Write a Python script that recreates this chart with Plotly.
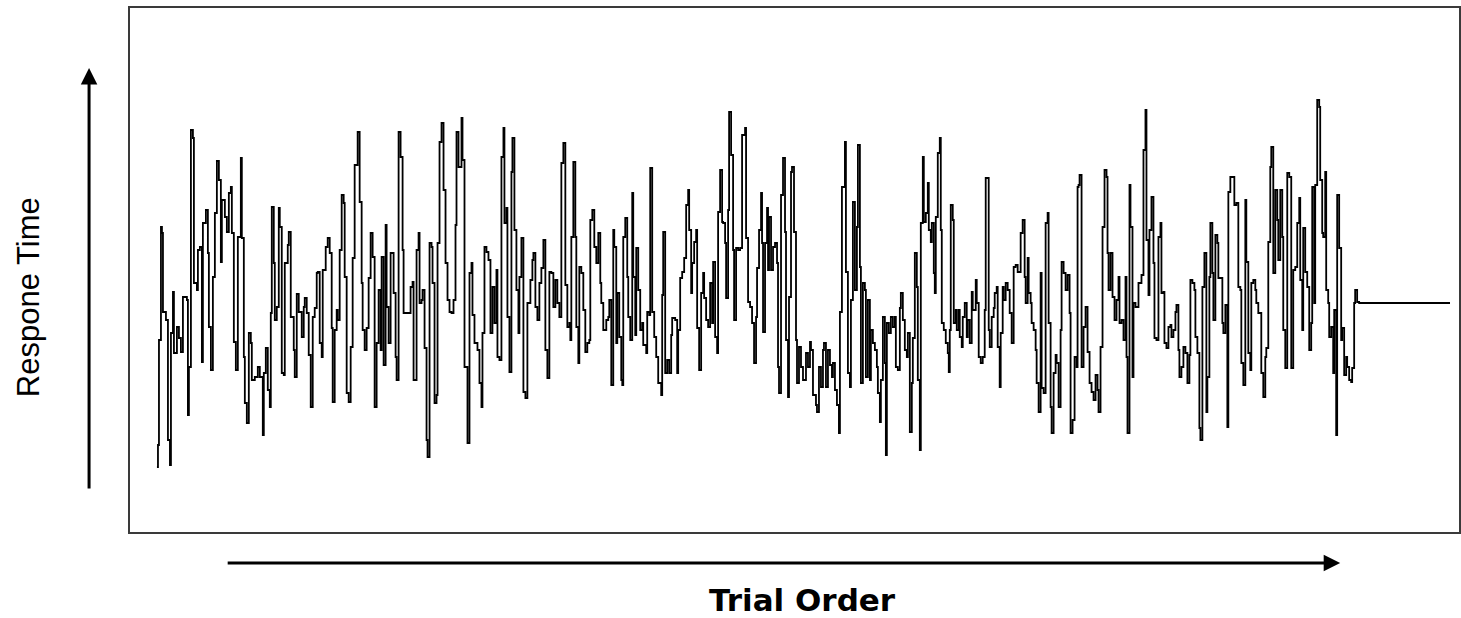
import plotly.graph_objects as go

# Trial index (position along the trial sequence) and response time (arbitrary units)
trial = [
    2, 3, 4, 6, 7, 8, 11, 13, 15, 16, 18, 19, 22, 24, 26, 28, 32, 33, 34, 36, 38, 39, 42, 43, 45, 47, 48, 51, 53, 54,
    56, 58, 60, 62, 64, 66, 67, 70, 72, 74, 76, 77, 79, 81, 83, 86, 87, 89, 90, 92, 94, 96, 97, 100, 103, 105, 108, 109,
    111, 113, 115, 116, 117, 119, 120, 122, 124, 125, 127, 129, 130, 133, 134, 136, 139, 140, 142, 144, 147, 149,
    150, 152, 154, 156, 158, 160, 162, 163, 165, 167, 168, 171, 173, 175, 177, 178, 180, 182, 183, 185, 187, 189, 190,
    192, 194, 196, 198, 200, 203, 205, 207, 208, 210, 212, 214, 216, 218, 220, 222, 224, 226, 227, 229, 231, 232, 234,
    236, 238, 239, 241, 242, 244, 246, 248, 249, 252, 254, 256, 258, 259, 262, 264, 265, 267, 268, 270, 272, 273, 275,
    277, 278, 280, 282, 283, 285, 287, 289, 291, 293, 295, 297, 299, 301, 302, 304,
    307, 308, 310, 313, 315, 317, 318, 320, 323, 325, 327, 328, 330, 332, 334, 336, 338, 340, 342, 343, 345, 347, 349,
    350, 352, 353, 355, 357, 358, 360, 362, 364, 365, 367, 369, 371, 373, 375, 376, 378, 379, 381, 383, 385, 387, 389,
    391, 393, 395, 397, 399, 401, 403, 405, 407, 409, 411, 413, 415, 416, 417, 419, 421, 422, 424, 425, 427, 429, 431,
    433, 435, 436, 438, 440, 442, 444, 446, 447, 449, 452, 454, 455, 457, 459,
    460, 462, 463, 465, 467, 468, 469, 471, 473, 474, 476, 478, 479, 481, 482, 484, 486, 488, 489, 492, 493, 495, 496,
    498, 500, 502, 504, 507, 508, 509, 511, 513, 515, 517, 518, 521, 523, 524, 526, 528, 530, 532, 534, 535, 537, 538,
    540, 542, 543, 545, 547, 549, 550, 552, 554, 556, 558, 559, 561, 563, 564, 566, 568, 569, 571, 572, 574, 575, 577,
    579, 580, 582, 584, 586, 588, 591, 592, 594, 596, 598, 600, 602, 603, 605, 607, 608, 609, 611, 613, 614,
    615, 617, 619, 621, 623, 624, 625, 627, 629, 631, 632, 634, 635, 637, 638, 640, 642, 643, 645, 647, 649, 651, 652,
    654, 656, 657, 659, 662, 663, 665, 667, 669, 670, 672, 674, 676, 678, 679, 681, 683, 685, 686, 688, 691, 692, 694,
    696, 697, 699, 701, 703, 704, 706, 707, 709, 711, 712, 714, 716, 717, 719, 721, 723, 724, 726, 727, 729, 731, 732,
    733, 735, 737, 739, 741, 742, 744, 746, 747, 749, 751, 753, 754, 756, 758, 759, 761, 763, 764, 766, 767, 769,
    770, 772, 774, 775, 777, 778, 780, 781, 782, 784, 786, 787, 788, 790, 792, 794, 795, 796, 797, 799, 800, 802, 803,
    805, 806, 808, 809, 811, 813, 814, 816, 818, 819, 822, 823, 825, 827, 829, 831, 832, 834, 835, 836, 838, 840, 841,
    843, 844, 846, 847, 849, 850, 852, 854, 856, 858, 860, 862, 864, 867, 869, 871, 872, 874, 875, 877, 878, 880, 882,
    883, 885, 887, 888, 890, 892, 894, 895, 897, 898, 900, 902, 903, 905, 907, 908, 910, 912, 914, 916, 917, 919, 921,
    923, 924,
    925, 926, 928, 930, 932, 934, 936, 938, 940, 942, 944, 945, 947, 949, 951, 953, 954, 955, 957, 959, 961, 963, 965,
    966, 968, 970, 972, 973, 974, 976, 977, 979, 980, 982, 983, 985, 987, 988, 990, 992, 993, 995, 996, 998, 1000, 1001,
    1003, 1005, 1007, 1008, 1010, 1011, 1013, 1015, 1017, 1018, 1020, 1022, 1023, 1025, 1026, 1028, 1030, 1032, 1034,
    1036, 1037, 1039, 1041, 1042, 1044, 1046, 1047, 1049, 1051, 1053, 1054, 1056, 1057, 1059, 1060, 1062, 1064, 1065,
    1067, 1069, 1070, 1072, 1074, 1075, 1077,
    1081, 1083, 1085, 1087, 1088, 1090, 1092, 1093, 1095, 1097, 1098, 1100, 1102, 1103, 1105, 1107, 1108, 1110, 1112,
    1113, 1115, 1117, 1118, 1120, 1122, 1124, 1125, 1127, 1129, 1130, 1132, 1134, 1136, 1138, 1140, 1142, 1144, 1146,
    1147, 1149, 1150, 1152, 1154, 1156, 1158, 1159, 1161, 1162, 1164, 1166, 1167, 1169, 1170, 1172, 1173, 1175, 1176,
    1178, 1180, 1181, 1183, 1184, 1186, 1188, 1189, 1191, 1193, 1194, 1196, 1198, 1199, 1201, 1202, 1204, 1206, 1297,
]

response_time = [
    65, 87, 192, 305, 299, 220, 212, 92, 67, 199, 240, 179, 205, 194, 180, 235, 232, 117, 165, 402, 394, 249, 242, 282,
    285, 170, 309, 322, 279, 205,
    162, 255, 319, 371, 352, 270, 332, 315, 300, 339, 345, 299, 190, 162, 295, 374, 294, 175, 129, 109, 199, 189, 152,
    155, 165, 155, 97, 159,
    184, 142, 125, 219, 325, 269, 212, 225, 324, 305, 159, 157, 269, 287, 300, 215, 182, 155, 238, 220, 195, 225,
    234, 219, 177, 125, 215, 224, 259, 260, 189, 175, 262, 285, 294, 279, 204, 130, 202, 222, 212, 282, 337, 329, 255,
    139, 130, 185, 274, 367, 400, 330, 249, 202, 182, 204, 254, 299, 275, 125, 189, 242, 182, 275, 167, 307, 225, 189,
    279, 279, 239, 175, 152, 400, 375, 282, 219, 219, 219, 245, 250, 152, 282, 299, 229, 232, 242, 184, 92, 75, 289,
    285, 249, 129, 137, 289, 390, 409, 342, 269, 232, 220, 219, 232, 307, 400, 365,
    414, 372, 165, 89, 259, 269, 217, 189, 182, 149, 125, 199, 285, 280, 272, 199, 245, 209, 262, 175, 172, 375, 404,
    309, 324, 215, 160, 360, 394, 302, 242, 199, 255, 294, 140, 134, 229, 229, 252, 272, 279, 225, 212, 249, 264, 292,
    182, 154, 260, 259, 225, 252, 229, 215, 369, 389, 247, 205, 209, 192, 295, 370, 295, 205, 169, 265, 259, 222, 180,
    189, 192, 312, 322, 285, 269, 299, 249, 229, 202, 212, 215, 232, 147, 302,
    285, 189, 239, 195, 152, 147, 295, 314, 255, 215, 192, 339, 255, 197, 284, 242, 202, 209, 187, 179, 220, 217, 364,
    220, 195, 175, 149, 137, 237, 300, 159, 172, 159, 197, 214, 212, 159, 202, 254, 260, 274, 327, 342, 302, 239, 269,
    290, 302, 204, 162, 239, 259, 234, 212, 205, 249, 209, 270, 195, 179, 320, 362, 310, 309, 289, 234, 322, 420, 377,
    282, 212, 284, 282, 284, 397, 404, 294, 230, 225, 209, 169, 215, 264, 302, 339, 289, 200, 289, 324, 262,
    315, 262, 285, 289, 269, 165, 139, 337, 374, 300, 192, 135, 235, 360, 365, 300, 192, 149, 185, 165, 152, 152, 179,
    165, 190, 182, 137, 127, 120, 165, 145, 182, 189, 145, 182, 167, 155, 169, 142, 127, 99, 220, 345, 390, 260, 159,
    145, 232, 330, 242, 305, 387, 265, 149, 249, 242, 155, 232, 152, 202, 189, 182, 165, 139, 110, 152, 215, 169, 77,
    209, 199, 215, 205, 215, 165, 162, 224, 239, 212, 182, 175, 199, 100, 149, 194, 279, 245, 152, 82, 309, 375,
    310, 319, 349, 302, 290, 309, 259, 239, 315, 379, 394, 302, 209, 202, 189, 179, 160, 202, 327, 312, 209, 222, 202,
    222, 195, 185, 215, 229, 195, 212, 189, 240, 222, 252, 229, 175, 169, 175, 222, 354, 354, 202, 185, 215, 224, 239,
    245, 185, 145, 199, 245, 232, 249, 242, 219, 189, 265, 267, 260, 299, 312, 255, 229, 274, 239, 229, 209, 202, 182,
    149, 120, 259, 144, 139, 309, 319, 209, 125, 99, 159, 177, 169, 125, 202, 270, 259, 242, 257, 219, 99, 112, 175,
    165, 345,
    347, 357, 165, 205, 225, 180, 149, 140, 132, 157, 142, 120, 185, 305, 362, 355, 279, 242, 279, 235, 212, 232, 255,
    209, 212, 192, 255, 175, 99, 347, 305, 155, 229, 225, 225, 249, 249, 257, 382, 422, 292, 237, 302, 335, 269, 194,
    192, 295, 309, 239, 240, 189, 184, 205, 207, 195, 202, 220, 227, 182, 155, 165, 185, 179, 149,
    177, 252, 249, 242, 195, 179, 104, 92, 245, 279, 120, 155, 255, 309, 259, 212, 297, 289, 254,
    254, 209, 199, 227, 105, 340, 355,
    327, 329, 245, 242, 169, 147, 332, 270, 179, 162, 249, 252, 242, 229, 219, 219, 159, 135, 175,
    184, 290, 365, 385, 259, 342, 312, 272, 342, 295, 202, 164, 359, 355, 164, 262, 265, 309, 334,
    252, 202, 304, 260, 245, 182, 209, 345, 229, 347, 432, 425, 352, 299, 295, 360, 242, 229, 195,
    205, 159, 222, 97, 337, 284, 192, 204, 157, 175, 165, 152, 150, 164, 229, 242, 230, 229, 229,
]

x_label = "Trial Order"
y_label = "Respone Time"

fig = go.Figure()
fig.add_trace(go.Scatter(
    x=trial, y=response_time, mode="lines",
    line=dict(color="black", width=1.8, shape="hv"),
    hoverinfo="skip", showlegend=False,
))

W, H = 1461, 618
L, R, T, B = 130, 0, 8, 86
pw, ph = W - L - R, H - T - B


def px(x):
    return (x - L) / pw


def py(y):
    return (H - B - y) / ph


axis_common = dict(showticklabels=False, showgrid=False, zeroline=False, ticks="",
                   showline=True, mirror=True, linecolor="#3a3a3a", linewidth=2)

fig.update_layout(
    width=W, height=H,
    margin=dict(l=L, r=R, t=T, b=B, pad=0),
    paper_bgcolor="white", plot_bgcolor="white",
    xaxis=dict(range=[-25, 1306], **axis_common),
    yaxis=dict(range=[0, 524], **axis_common),
    annotations=[
        dict(text=y_label, xref="paper", yref="paper", x=px(28), y=py(297),
             textangle=-90, showarrow=False, xanchor="center", yanchor="middle",
             font=dict(family="Liberation Sans, Arial, sans-serif", size=31, color="black")),
        dict(text="<b>" + x_label + "</b>", xref="paper", yref="paper", x=px(804), y=py(600),
             showarrow=False, xanchor="center", yanchor="middle",
             font=dict(family="DejaVu Sans, sans-serif", size=31, color="black")),
        dict(text="", xref="paper", yref="paper", x=px(89), y=py(68), ax=0, ay=422,
             showarrow=True, arrowhead=2, arrowsize=1.1, arrowwidth=3, arrowcolor="black",
             standoff=0, startstandoff=0),
        dict(text="", xref="paper", yref="paper", x=px(1342), y=py(563), ax=-1114, ay=0,
             showarrow=True, arrowhead=2, arrowsize=1.1, arrowwidth=3, arrowcolor="black",
             standoff=0, startstandoff=0),
    ],
)

fig.write_html("out.html")
